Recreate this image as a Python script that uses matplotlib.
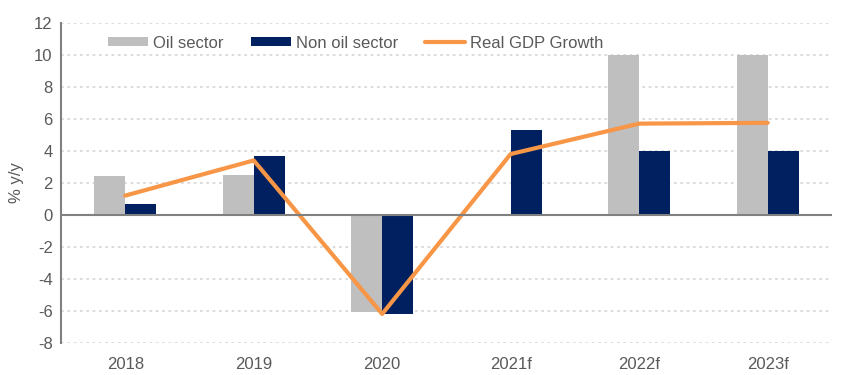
import matplotlib.pyplot as plt
import numpy as np

years = ["2018", "2019", "2020", "2021f", "2022f", "2023f"]
oil_sector = [2.4, 2.5, -6.1, 0.0, 10.0, 10.0]
non_oil_sector = [0.65, 3.7, -6.2, 5.3, 4.0, 4.0]
real_gdp = [1.2, 3.4, -6.2, 3.8, 5.7, 5.75]

text_col = "#595959"
plt.rcParams["font.family"] = "Liberation Sans"
plt.rcParams["axes.unicode_minus"] = False

fig = plt.figure(figsize=(8.55, 3.75), dpi=100)
ax = fig.add_axes([0.0713, 0.086, 0.9017, 0.853])

x = np.arange(len(years))
w = 0.24
b1 = ax.bar(x - w / 2, oil_sector, w, color="#BFBFBF", label="Oil sector", zorder=2)
b2 = ax.bar(x + w / 2, non_oil_sector, w, color="#002060", label="Non oil sector", zorder=2)
l1, = ax.plot(x, real_gdp, color="#F79646", lw=3, label="Real GDP Growth", zorder=3,
              solid_capstyle="round")

ax.set_xlim(-0.5, 5.5)
ax.set_ylim(-8, 12)
ax.set_yticks(range(-8, 13, 2))
ax.set_xticks(x)
ax.set_xticklabels(years)
ax.yaxis.grid(True, color="#D9D9D9", linestyle=(0, (1.5, 2)), lw=1.3, zorder=0)
ax.axhline(0, color="#808080", lw=1.5, zorder=4)

for s in ["top", "right", "bottom"]:
    ax.spines[s].set_visible(False)
ax.spines["left"].set_color("#808080")
ax.spines["left"].set_linewidth(1.5)
ax.tick_params(axis="both", length=0, labelsize=12, colors=text_col, pad=6)
ax.tick_params(axis="x", pad=10)
ax.set_ylabel("% y/y", fontsize=12, color=text_col, labelpad=7)

ax.legend([b1, b2, l1], ["Oil sector", "Non oil sector", "Real GDP Growth"],
          loc="center left", bbox_to_anchor=(0.053, 0.937), ncol=3, frameon=False,
          fontsize=12, labelcolor=text_col, handlelength=2.4, handleheight=0.5,
          handletextpad=0.3, columnspacing=1.6, borderaxespad=0)

fig.savefig("out.png", dpi=100)
